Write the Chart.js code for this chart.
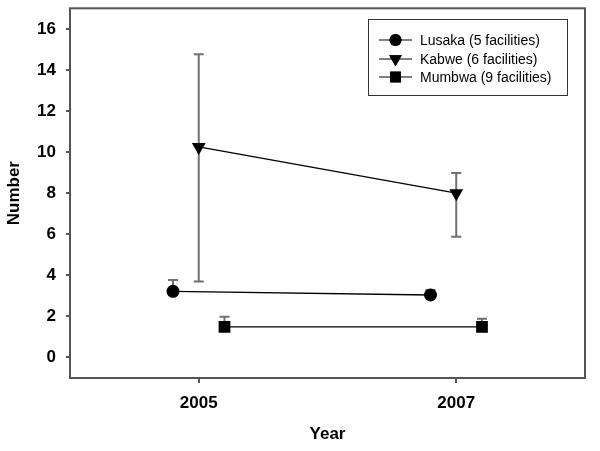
<!DOCTYPE html>
<html>
<head>
<meta charset="utf-8">
<script src="https://cdn.jsdelivr.net/npm/chart.js@4/dist/chart.umd.min.js"></script>
<style>
html, body { margin: 0; padding: 0; background: #fff; }
#wrap { width: 600px; height: 451px; }
</style>
</head>
<body>
<div id="wrap"><canvas id="myChart"></canvas></div>
<script>
// data
const years = [2005, 2007];
const seriesNames = ['Lusaka (5 facilities)', 'Kabwe (6 facilities)', 'Mumbwa (9 facilities)'];
const lusaka = [3.22, 3.04];
const kabwe = [10.25, 8.0];
const mumbwa = [1.49, 1.49];
const lusakaErrUp = [0.55, 0.25];
const lusakaErrDown = [0, 0];
const kabweErrUp = [4.51, 0.98];
const kabweErrDown = [6.55, 2.12];
const mumbwaErrUp = [0.49, 0.39];
const mumbwaErrDown = [0, 0];
const xTickValues = [2005, 2007];
const yTickValues = [0, 2, 4, 6, 8, 10, 12, 14, 16];

// series are shifted a little sideways so the bars don't overlap
const dodge = [-0.2, 0, 0.2];

function points(values, shift) {
	return values.map((v, i) => ({x: years[i] + shift, y: v}));
}

const axisGrey = '#555555';
const errGrey = '#707070';

const errorBars = {
	id: 'errorBars',
	beforeDatasetsDraw(chart) {
		const ctx = chart.ctx;
		const xs = chart.scales.x, ys = chart.scales.y;
		ctx.save();
		ctx.strokeStyle = errGrey;
		ctx.lineWidth = 2;
		chart.data.datasets.forEach(ds => {
			ds.data.forEach((p, i) => {
				const px = xs.getPixelForValue(p.x);
				const top = ys.getPixelForValue(p.y + ds.errUp[i]);
				const bot = ys.getPixelForValue(p.y - ds.errDown[i]);
				ctx.beginPath();
				ctx.moveTo(px, top);
				ctx.lineTo(px, bot);
				ctx.moveTo(px - 5, top);
				ctx.lineTo(px + 5, top);
				if (ds.errDown[i] > 0) {
					ctx.moveTo(px - 5, bot);
					ctx.lineTo(px + 5, bot);
				}
				ctx.stroke();
			});
		});
		ctx.restore();
	}
};

const frameAndLegend = {
	id: 'frameAndLegend',
	afterDraw(chart) {
		const ctx = chart.ctx;
		const a = chart.chartArea;
		ctx.save();
		ctx.strokeStyle = axisGrey;
		ctx.lineWidth = 2;
		ctx.strokeRect(a.left, a.top, a.right - a.left, a.bottom - a.top);

		// legend box
		ctx.strokeStyle = '#333';
		ctx.lineWidth = 1;
		ctx.strokeRect(368.5, 19.5, 199, 76);
		ctx.font = '14px "Liberation Sans", Arial, sans-serif';
		ctx.textBaseline = 'middle';
		ctx.textAlign = 'left';
		const rows = [40, 59, 77];
		chart.data.datasets.forEach((ds, i) => {
			const y = rows[i];
			ctx.strokeStyle = '#000';
			ctx.lineWidth = 1;
			ctx.beginPath();
			ctx.moveTo(379, y);
			ctx.lineTo(412, y);
			ctx.stroke();
			Chart.helpers.drawPoint(ctx, {
				pointStyle: ds.pointStyle,
				radius: ds.pointRadius * 0.92,
				rotation: ds.rotation || 0,
				borderWidth: 0
			}, 395.5, y);
			ctx.fillStyle = '#000';
			ctx.fill();
			ctx.fillText(ds.label, 420, y + 1);
		});
		ctx.restore();
	}
};

const myChart = document.getElementById('myChart');
const chart = new Chart(myChart, {
	type: 'scatter',
	data: {
		datasets: [
			{
				label: seriesNames[0],
				data: points(lusaka, dodge[0]),
				errUp: lusakaErrUp,
				errDown: lusakaErrDown,
				pointStyle: 'circle',
				pointRadius: 6.5
			},
			{
				label: seriesNames[1],
				data: points(kabwe, dodge[1]),
				errUp: kabweErrUp,
				errDown: kabweErrDown,
				pointStyle: 'triangle',
				rotation: 180,
				pointRadius: 8
			},
			{
				label: seriesNames[2],
				data: points(mumbwa, dodge[2]),
				errUp: mumbwaErrUp,
				errDown: mumbwaErrDown,
				pointStyle: 'rect',
				pointRadius: 8.3
			}
		].map(ds => Object.assign({
			showLine: true,
			borderColor: '#000',
			borderWidth: 1.3,
			backgroundColor: '#000',
			pointBackgroundColor: '#000',
			pointBorderWidth: 0
		}, ds))
	},
	options: {
		responsive: true,
		maintainAspectRatio: false,
		animation: false,
		layout: {padding: {top: 7, right: 15, left: 0, bottom: 0}},
		plugins: {
			legend: {display: false},
			tooltip: {enabled: false}
		},
		scales: {
			x: {
				type: 'linear',
				min: 2004,
				max: 2008,
				afterBuildTicks: s => { s.ticks = xTickValues.map(v => ({value: v})); },
				afterFit: s => { s.height = 73; s.paddingLeft = 0; s.paddingRight = 0; },
				border: {display: false},
				grid: {drawOnChartArea: false, drawTicks: true, tickLength: 5, color: axisGrey, lineWidth: 2},
				ticks: {
					color: '#000',
					padding: 10,
					maxRotation: 0,
					font: {family: '"Liberation Sans", Arial, sans-serif', size: 17, weight: 'bold'},
					callback: v => String(v)
				},
				title: {
					display: true,
					text: 'Year',
					color: '#000',
					padding: {top: 0, bottom: 6},
					font: {family: '"Liberation Sans", Arial, sans-serif', size: 17, weight: 'bold'}
				}
			},
			y: {
				min: -1,
				max: 17,
				afterBuildTicks: s => { s.ticks = yTickValues.map(v => ({value: v})); },
				afterFit: s => { s.width = 70; s.paddingTop = 0; s.paddingBottom = 0; },
				border: {display: false},
				grid: {drawOnChartArea: false, drawTicks: true, tickLength: 4, color: axisGrey, lineWidth: 2},
				ticks: {
					color: '#000',
					padding: 10,
					font: {family: '"Liberation Sans", Arial, sans-serif', size: 17, weight: 'bold'}
				},
				title: {
					display: true,
					text: 'Number',
					color: '#000',
					padding: {top: 4, bottom: 0},
					font: {family: '"Liberation Sans", Arial, sans-serif', size: 17, weight: 'bold'}
				}
			}
		}
	},
	plugins: [errorBars, frameAndLegend]
});
</script>
</body>
</html>
